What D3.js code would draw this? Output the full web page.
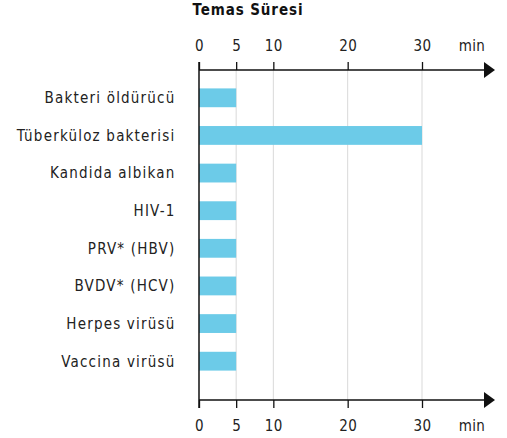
<!DOCTYPE html>
<html lang="en">
<head>
    <meta charset="UTF-8">
    <title>Temas Süresi</title>
    <script src="https://d3js.org/d3.v7.min.js"></script>
    <style>
        body { margin: 0; background: #fff; }
        text { font-family: "DejaVu Sans Condensed", "Roboto", sans-serif; fill: #222; }
        .cat-label { font-size: 15px; letter-spacing: 1.2px; }
        .tick text, .unit { font-size: 15px; letter-spacing: 0.4px; fill: #222; }
        .title { font-size: 15px; font-weight: bold; letter-spacing: 0.9px; fill: #111; }
        .grid line { stroke: #d9d9d9; stroke-width: 1px; }
        .bar { fill: #6ccbe8; }
    </style>
</head>
<body>
    <svg width="507" height="438"></svg>

    <script>
        // Data
        const categories = ["Bakteri öldürücü", "Tüberküloz bakterisi", "Kandida albikan", "HIV-1",
            "PRV* (HBV)", "BVDV* (HCV)", "Herpes virüsü", "Vaccina virüsü"];
        const minutes = [5, 30, 5, 5, 5, 5, 5, 5];
        const tickValues = [0, 5, 10, 20, 30];
        const unitLabel = "min";
        const titleText = "Temas Süresi";

        const svg = d3.select("svg");

        // Layout
        const x0 = 199, topAxisY = 70, bottomAxisY = 400, arrowEnd = 495;

        const xScale = d3.scaleLinear()
            .domain([0, 30])
            .range([x0, 422]);

        const yScale = d3.scaleBand()
            .domain(categories)
            .range([79, 380])
            .paddingInner(0.5)
            .paddingOuter(0.25);

        // Title
        svg.append("text")
            .attr("class", "title")
            .attr("x", 248)
            .attr("y", 15)
            .attr("text-anchor", "middle")
            .text(titleText);

        // Grid lines
        svg.append("g")
            .attr("class", "grid")
            .selectAll("line")
            .data(tickValues.slice(1))
            .enter().append("line")
            .attr("x1", d => xScale(d))
            .attr("x2", d => xScale(d))
            .attr("y1", topAxisY)
            .attr("y2", bottomAxisY);

        // Bars
        svg.selectAll(".bar")
            .data(minutes)
            .enter().append("rect")
            .attr("class", "bar")
            .attr("x", xScale(0))
            .attr("y", (d, i) => yScale(categories[i]))
            .attr("width", d => xScale(d) - xScale(0))
            .attr("height", yScale.bandwidth());

        // Category labels
        svg.selectAll(".cat-label")
            .data(categories)
            .enter().append("text")
            .attr("class", "cat-label")
            .attr("x", 175.5)
            .attr("y", d => yScale(d) + yScale.bandwidth() / 2)
            .attr("dy", "0.36em")
            .attr("text-anchor", "end")
            .text(d => d);

        // Axes
        const topAxis = svg.append("g")
            .attr("transform", `translate(0,${topAxisY})`)
            .call(d3.axisTop(xScale).tickValues(tickValues).tickSize(8).tickPadding(11));

        const bottomAxis = svg.append("g")
            .attr("transform", `translate(0,${bottomAxisY})`)
            .call(d3.axisBottom(xScale).tickValues(tickValues).tickSize(8).tickPadding(12));

        [topAxis, bottomAxis].forEach(g => {
            g.select(".domain").remove();
            g.selectAll(".tick line").attr("stroke", "#111").attr("stroke-width", 1.3);
            g.selectAll(".tick text").attr("font-family", null).attr("font-size", null);
        });

        // Axis lines with arrows
        [topAxisY, bottomAxisY].forEach(y => {
            svg.append("line")
                .attr("x1", x0).attr("x2", arrowEnd - 8)
                .attr("y1", y).attr("y2", y)
                .attr("stroke", "#111").attr("stroke-width", 1.5);
            svg.append("path")
                .attr("d", `M${arrowEnd - 11},${y - 8}L${arrowEnd},${y}L${arrowEnd - 11},${y + 8}Z`)
                .attr("fill", "#111");
        });

        // Unit labels
        svg.append("text")
            .attr("class", "unit")
            .attr("x", 472).attr("y", topAxisY - 19)
            .attr("text-anchor", "middle")
            .text(unitLabel);
        svg.append("text")
            .attr("class", "unit")
            .attr("x", 472).attr("y", bottomAxisY + 31)
            .attr("text-anchor", "middle")
            .text(unitLabel);

        // Vertical axis line
        svg.append("line")
            .attr("x1", x0).attr("x2", x0)
            .attr("y1", topAxisY - 8).attr("y2", bottomAxisY + 8)
            .attr("stroke", "#111").attr("stroke-width", 1.5);
    </script>
</body>
</html>
